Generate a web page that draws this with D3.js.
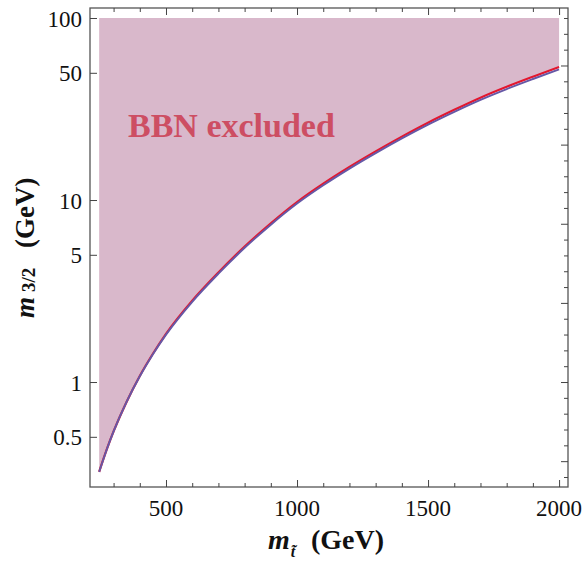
<!DOCTYPE html>
<html>
<head>
<meta charset="utf-8">
<script src="https://cdn.jsdelivr.net/npm/d3@7"></script>
<style>
  html, body { margin: 0; padding: 0; background: #fff; }
  svg { display: block; }
  text { font-family: "Liberation Serif", "DejaVu Serif", serif; }
</style>
</head>
<body>
<svg id="chart" width="583" height="563"></svg>
<script>
// ---- data ----
const stopMass = [245, 275, 300, 350, 400, 450, 500, 600, 700, 800, 900, 1000, 1100, 1200, 1300, 1400, 1500, 1600, 1700, 1800, 1900, 2000];
const gravitinoRed  = [0.321, 0.43, 0.535, 0.78, 1.08, 1.43, 1.84, 2.80, 4.00, 5.55, 7.45, 9.75, 12.3, 15.2, 18.5, 22.3, 26.6, 31.3, 36.5, 41.9, 47.6, 53.8];
const gravitinoBlue = [0.321, 0.43, 0.535, 0.78, 1.075, 1.42, 1.82, 2.76, 3.94, 5.46, 7.32, 9.56, 12.05, 14.88, 18.1, 21.8, 25.95, 30.5, 35.5, 40.7, 46.2, 52.2];
const excludedTop = 100;
const xTicksMajor = [500, 1000, 1500, 2000];
const xTicksMinor = [300, 400, 600, 700, 800, 900, 1100, 1200, 1300, 1400, 1600, 1700, 1800, 1900];
const yTicks = [0.5, 1, 5, 10, 50, 100];
const yTickLabels = ["0.5", "1", "5", "10", "50", "100"];
const rightTicks = d3.range(-6, 24);   // evenly spaced frame ticks on the right edge
const regionLabel = "BBN excluded";

// ---- layout ----
const svg = d3.select("#chart");
const L = 90, R = 568, T = 8, B = 487;
const x = d3.scaleLinear().domain([210, 2034]).range([L, R]);
const y = d3.scaleLog().domain([0.265, 113.5]).range([B, T]);
const yr = d3.scaleLinear().domain([0, 23]).range([y(1), y(100)]);

const redPts = stopMass.map((m, i) => [m, gravitinoRed[i]]);
const bluePts = stopMass.map((m, i) => [m, gravitinoBlue[i]]);

// excluded region
const area = d3.area()
  .x(d => x(d[0]))
  .y0(() => y(excludedTop))
  .y1(d => y(d[1]))
  .curve(d3.curveMonotoneX);
svg.append("path").datum(redPts)
  .attr("d", area)
  .attr("fill", "#d9b8cb");

const line = d3.line().x(d => x(d[0])).y(d => y(d[1])).curve(d3.curveMonotoneX);
svg.append("path").datum(redPts).attr("d", line)
  .attr("fill", "none").attr("stroke", "#e3172f").attr("stroke-width", 2.2);
svg.append("path").datum(bluePts).attr("d", line)
  .attr("fill", "none").attr("stroke", "#6658a6").attr("stroke-width", 2);

// region label
svg.append("text").attr("x", x(355)).attr("y", y(22.3))
  .attr("font-size", 34).attr("font-weight", "bold")
  .attr("fill", "#cd4e63").text(regionLabel);

// frame
svg.append("rect").attr("x", L).attr("y", T).attr("width", R - L).attr("height", B - T)
  .attr("fill", "none").attr("stroke", "#555").attr("stroke-width", 1.3);

const tickColor = "#444";
// bottom & top axes (ticks inside)
const axBottom = d3.axisTop(x).tickValues(xTicksMajor).tickSize(7).tickFormat("");
const axBottomMinor = d3.axisTop(x).tickValues(xTicksMinor).tickSize(4).tickFormat("");
const axTop = d3.axisBottom(x).tickValues(xTicksMajor).tickSize(7).tickFormat("");
const axTopMinor = d3.axisBottom(x).tickValues(xTicksMinor).tickSize(4).tickFormat("");
[[axBottom, B], [axBottomMinor, B], [axTop, T], [axTopMinor, T]].forEach(([ax, yy]) => {
  const g = svg.append("g").attr("transform", `translate(0,${yy})`).call(ax);
  g.select(".domain").remove();
  g.selectAll("line").attr("stroke", tickColor);
});
// left axis
const axLeft = d3.axisRight(y).tickValues(yTicks).tickSize(7).tickFormat("");
const gl = svg.append("g").attr("transform", `translate(${L},0)`).call(axLeft);
gl.select(".domain").remove();
gl.selectAll("line").attr("stroke", tickColor);
// right axis (evenly spaced ticks)
const axRight = d3.axisLeft(yr).tickValues(rightTicks.filter(k => yr(k) < B - 2)).tickSize(4).tickFormat("");
const gr = svg.append("g").attr("transform", `translate(${R},0)`).call(axRight);
gr.select(".domain").remove();
gr.selectAll("line").attr("stroke", tickColor)
  .attr("x2", d => (d % 5 === 0 ? -7 : -4));

// tick labels
svg.append("g").selectAll("text").data(xTicksMajor).join("text")
  .attr("x", d => x(d)).attr("y", 516)
  .attr("text-anchor", "middle").attr("font-size", 23).attr("fill", "#111")
  .text(d => d);
svg.append("g").selectAll("text").data(yTicks).join("text")
  .attr("x", 82).attr("y", d => y(d) + 8.5)
  .attr("text-anchor", "end").attr("font-size", 23).attr("fill", "#111")
  .text((d, i) => yTickLabels[i]);

// axis titles
const xt = svg.append("text").attr("x", 268).attr("y", 549)
  .attr("font-size", 28).attr("font-weight", "bold").attr("fill", "#111");
xt.append("tspan").attr("font-style", "italic").text("m");
xt.append("tspan").attr("font-style", "italic").attr("font-size", 16).attr("dy", 8).attr("dx", 1).text("t\u0303");
xt.append("tspan").attr("x", 311).attr("dy", -8).text("(GeV)");

const yt = svg.append("text").attr("transform", "translate(34,318) rotate(-90)")
  .attr("font-size", 27).attr("font-weight", "bold").attr("fill", "#111");
yt.append("tspan").attr("font-style", "italic").text("m");
yt.append("tspan").attr("font-size", 19).attr("dy", 1).attr("dx", 5).text("3/2");
yt.append("tspan").attr("x", 70).attr("dy", -1).text("(GeV)");
</script>
</body>
</html>
